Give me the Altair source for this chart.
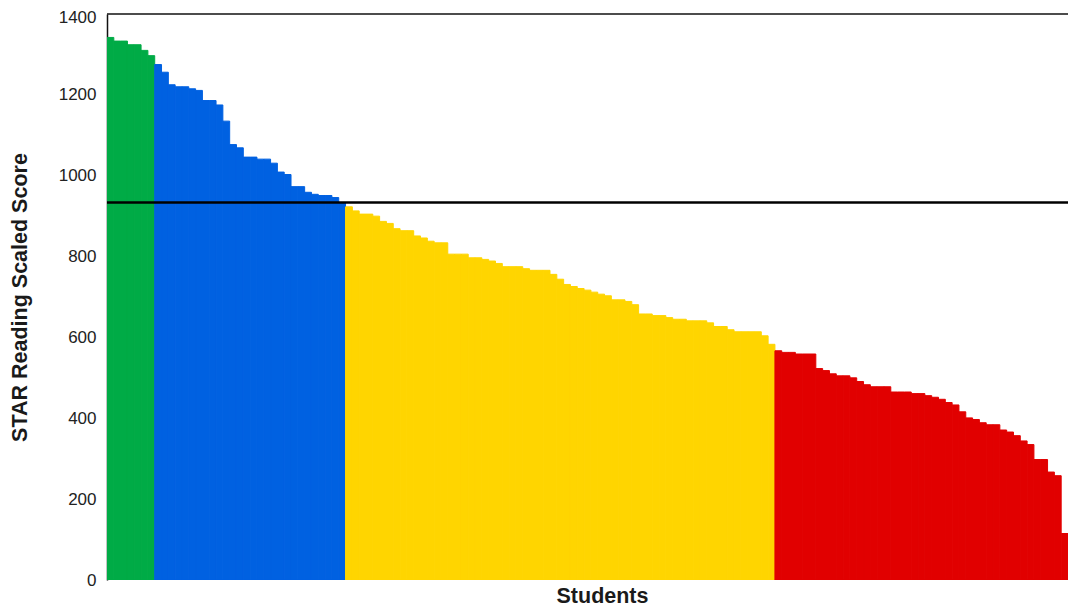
import altair as alt
import pandas as pd

# Scores, sorted high to low, one value per student
green_scores = [1342, 1333, 1333, 1324, 1324, 1310, 1297]
blue_scores = [1275, 1256, 1225, 1220, 1220, 1215, 1211, 1186, 1186, 1175,
               1135, 1077, 1069, 1046, 1046, 1041, 1041, 1031, 1009, 1003,
               973, 973, 959, 954, 951, 951, 946, 933]
yellow_scores = [923, 913, 905, 905, 900, 887, 882, 869, 864, 864, 851, 846,
                 838, 834, 834, 806, 806, 806, 797, 797, 793, 789, 783, 775,
                 775, 775, 770, 766, 766, 766, 756, 744, 731, 726, 721, 717,
                 712, 707, 703, 693, 693, 689, 681, 658, 658, 654, 654, 649,
                 645, 645, 641, 641, 641, 636, 627, 627, 619, 614, 614, 614,
                 614, 604, 583]
red_scores = [567, 563, 563, 559, 559, 559, 523, 518, 510, 505, 505, 500, 491,
              483, 478, 478, 478, 465, 465, 465, 461, 461, 456, 452, 447, 439,
              433, 416, 401, 397, 389, 384, 384, 371, 366, 357, 344, 335, 298,
              298, 267, 258, 115]
benchmark = [934]
y_ticks = [0, 200, 400, 600, 800, 1000, 1200, 1400]

levels = ["Green", "Blue", "Yellow", "Red"]
level_colors = ["#00AB46", "#0061E1", "#FFD500", "#E10000"]

rows = []
for lvl, scores in zip(levels, [green_scores, blue_scores, yellow_scores, red_scores]):
    for s in scores:
        rows.append({"student": len(rows) + 1, "score": s, "level": lvl})
df = pd.DataFrame(rows)

color_scale = alt.Scale(domain=levels, range=level_colors)

bars = alt.Chart(df).mark_bar(strokeWidth=1, clip=True).encode(
    x=alt.X("student:O",
            scale=alt.Scale(paddingInner=0, paddingOuter=0),
            axis=alt.Axis(labels=False, ticks=False, domain=False,
                          title="Students", titleFontSize=21.5,
                          titleFont="Liberation Sans", titleFontWeight="bold",
                          titleColor="#1a1a1a",
                          titleX=495, titleY=22, titleBaseline="alphabetic",
                          titleAlign="center")),
    y=alt.Y("score:Q",
            scale=alt.Scale(domain=[0, 1400], nice=False, zero=True),
            axis=alt.Axis(values=y_ticks, format="d", grid=False, ticks=False,
                          domainColor="#111111", domainWidth=1.5,
                          labelFont="Liberation Sans", labelFontSize=17,
                          labelColor="#222222", labelPadding=11,
                          labelOffset={"condition": {"test": "datum.value >= 1400", "value": 3},
                                       "value": 0},
                          title="STAR Reading Scaled Score",
                          titleFont="Liberation Sans", titleFontSize=21.5,
                          titleFontWeight="bold", titleColor="#1a1a1a",
                          titleAngle=270, titleX=-87, titleY=283,
                          titleAlign="center", titleBaseline="middle")),
    color=alt.Color("level:N", scale=color_scale, legend=None),
    stroke=alt.Stroke("level:N", scale=color_scale, legend=None),
)

top_df = pd.DataFrame({"y": [1400]})
top_line = alt.Chart(top_df).mark_rule(color="#111111", strokeWidth=1.5).encode(
    y=alt.Y("y:Q")
)

bench_df = pd.DataFrame({"y": benchmark})
bench_line = alt.Chart(bench_df).mark_rule(color="#000000", strokeWidth=2.5).encode(
    y=alt.Y("y:Q")
)

chart = alt.layer(bars, bench_line, top_line).properties(
    width=961,
    height=566,
    autosize=alt.AutoSizeParams(type="none"),
    padding={"left": 99, "top": 6, "right": 0, "bottom": 27},
).configure_view(stroke=None)

chart.save("out.html", embed_options={"renderer": "svg", "actions": False})
